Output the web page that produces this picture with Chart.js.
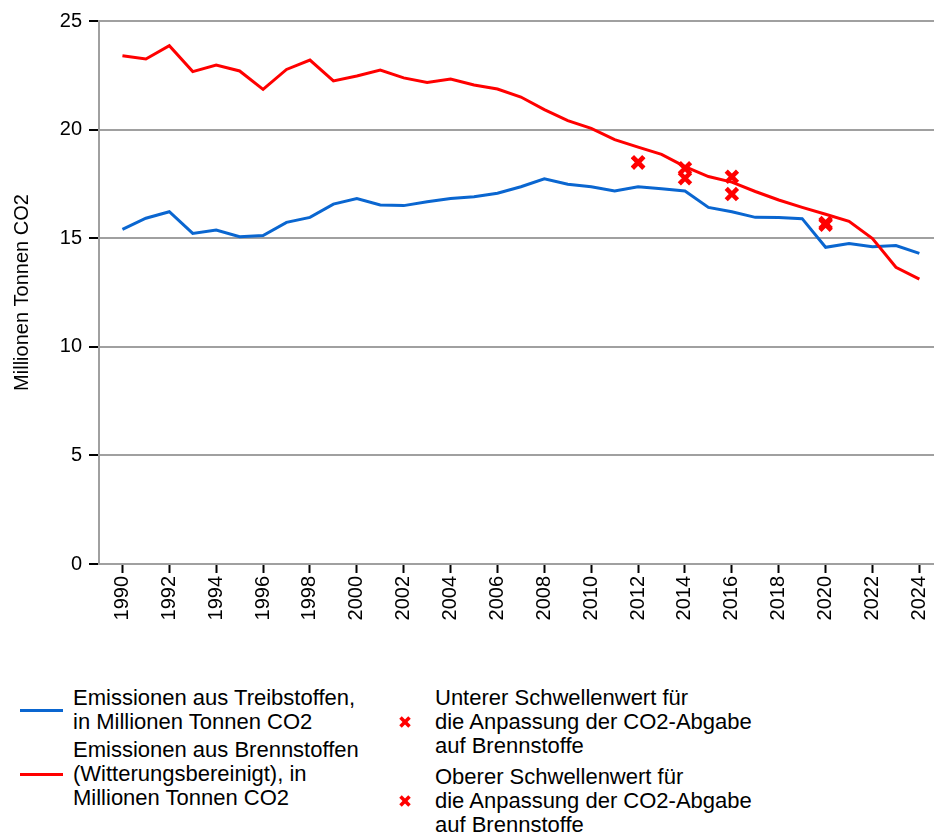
<!DOCTYPE html>
<html>
<head>
<meta charset="utf-8">
<script src="https://cdn.jsdelivr.net/npm/chart.js@4"></script>
<style>
  html, body { margin: 0; background: #fff; overflow: hidden; }
  body { font-family: "Liberation Sans", Arial, sans-serif; }
  #wrap { position: relative; width: 934px; height: 838px; overflow: hidden; }
  /* the plot runs past the right edge, as in the reference */
  #box { position: absolute; left: 0; top: 0; width: 955px; height: 650px; }
  .col { position: absolute; top: 686px; }
  .item { display: flex; align-items: center; font-size: 22px; line-height: 24px; color: #000; }
  .sample { width: 43px; height: 3px; margin-right: 10px; flex: none; }
  .mark { width: 20px; height: 14px; margin-right: 20px; flex: none; display: flex; justify-content: center; }
</style>
</head>
<body>
<div id="wrap">
  <div id="box"><canvas id="chart"></canvas></div>
  <div class="col" id="legendLeft" style="left:20px"></div>
  <div class="col" id="legendRight" style="left:395px"></div>
</div>
<script>
// Data
const years = [1990, 1991, 1992, 1993, 1994, 1995, 1996, 1997, 1998, 1999,
               2000, 2001, 2002, 2003, 2004, 2005, 2006, 2007, 2008, 2009,
               2010, 2011, 2012, 2013, 2014, 2015, 2016, 2017, 2018, 2019,
               2020, 2021, 2022, 2023, 2024];

const treibstoffe = [15.41, 15.92, 16.22, 15.22, 15.38, 15.07, 15.12, 15.73, 15.96, 16.57,
                     16.83, 16.53, 16.50, 16.68, 16.83, 16.91, 17.07, 17.37, 17.73, 17.48,
                     17.37, 17.17, 17.37, 17.28, 17.17, 16.42, 16.22, 15.96, 15.95, 15.90,
                     14.58, 14.76, 14.61, 14.66, 14.30];

const brennstoffe = [23.40, 23.25, 23.86, 22.67, 22.97, 22.70, 21.85, 22.77, 23.20, 22.24,
                     22.47, 22.74, 22.38, 22.17, 22.33, 22.05, 21.87, 21.50, 20.92, 20.41,
                     20.06, 19.54, 19.19, 18.86, 18.30, 17.84, 17.58, 17.15, 16.76, 16.42,
                     16.10, 15.78, 14.98, 13.66, 13.12];

const thresholdYears = [2012, 2014, 2016, 2020];
const lowerThreshold = [18.49, 17.76, 17.03, 15.62];
const upperThreshold = [18.49, 18.22, 17.83, 15.70];

const xTickYears = [1990, 1992, 1994, 1996, 1998, 2000, 2002, 2004, 2006, 2008,
                    2010, 2012, 2014, 2016, 2018, 2020, 2022, 2024];
const yTicks = [0, 5, 10, 15, 20, 25];

const yTitle = 'Millionen Tonnen CO2';
const labelTreib = ['Emissionen aus Treibstoffen,', 'in Millionen Tonnen CO2'];
const labelBrenn = ['Emissionen aus Brennstoffen', '(Witterungsbereinigt), in', 'Millionen Tonnen CO2'];
const labelLower = ['Unterer Schwellenwert für', 'die Anpassung der CO2-Abgabe', 'auf Brennstoffe'];
const labelUpper = ['Oberer Schwellenwert für', 'die Anpassung der CO2-Abgabe', 'auf Brennstoffe'];

const blue = '#0a66d0';
const red = '#ff0000';
const grey = '#a0a0a0';

function toPoints(xs, ys) {
  return xs.map(function(x, i) { return { x: x, y: ys[i] }; });
}

Chart.defaults.font.family = '"Liberation Sans", Arial, sans-serif';
Chart.defaults.font.size = 20;
Chart.defaults.color = '#000';

const ctx = document.getElementById('chart').getContext('2d');
new Chart(ctx, {
  type: 'line',
  data: {
    datasets: [
      {
        label: labelLower.join(' '),
        data: toPoints(thresholdYears, lowerThreshold),
        showLine: false,
        pointStyle: 'crossRot',
        pointRadius: 8,
        pointBorderWidth: 4.5,
        borderColor: red,
        backgroundColor: red,
        order: 0
      },
      {
        label: labelUpper.join(' '),
        data: toPoints(thresholdYears, upperThreshold),
        showLine: false,
        pointStyle: 'crossRot',
        pointRadius: 8,
        pointBorderWidth: 4.5,
        borderColor: red,
        backgroundColor: red,
        order: 0
      },
      {
        label: labelBrenn.join(' '),
        data: toPoints(years, brennstoffe),
        borderColor: red,
        borderWidth: 3,
        pointRadius: 0,
        tension: 0,
        order: 1
      },
      {
        label: labelTreib.join(' '),
        data: toPoints(years, treibstoffe),
        borderColor: blue,
        borderWidth: 3,
        pointRadius: 0,
        tension: 0,
        order: 2
      }
    ]
  },
  options: {
    responsive: true,
    maintainAspectRatio: false,
    animation: false,
    events: [],
    layout: {
      autoPadding: false,
      padding: { top: 21, left: 0, right: 0, bottom: 0 }
    },
    plugins: {
      legend: { display: false },
      tooltip: { enabled: false }
    },
    scales: {
      x: {
        type: 'linear',
        min: 1989,
        max: 2025.52,
        afterFit: function(scale) { scale.height = 86; },
        afterBuildTicks: function(scale) {
          scale.ticks = xTickYears.map(function(v) { return { value: v }; });
        },
        border: { color: grey, width: 2 },
        grid: {
          drawOnChartArea: false,
          tickLength: 9,
          tickColor: '#000',
          tickWidth: 2
        },
        ticks: {
          minRotation: 90,
          maxRotation: 90,
          autoSkip: false,
          padding: 3,
          callback: function(value) { return String(value); }
        }
      },
      y: {
        min: 0,
        max: 25,
        afterFit: function(scale) { scale.width = 99; },
        afterBuildTicks: function(scale) {
          scale.ticks = yTicks.map(function(v) { return { value: v }; });
        },
        border: { color: grey, width: 2 },
        grid: {
          color: grey,
          lineWidth: 2,
          tickLength: 10,
          tickColor: '#000',
          tickWidth: 2
        },
        ticks: {
          padding: 7,
          callback: function(value) { return String(value); }
        },
        title: {
          display: true,
          text: yTitle,
          font: { size: 20 },
          padding: { top: 10, bottom: 0 }
        }
      }
    }
  }
});

// HTML legend, two columns
function addItem(parentId, lines, kind, color, marginTop) {
  const item = document.createElement('div');
  item.className = 'item';
  item.style.marginTop = marginTop + 'px';
  const sym = document.createElement('div');
  if (kind === 'line') {
    sym.className = 'sample';
    sym.style.background = color;
  } else {
    sym.className = 'mark';
    sym.innerHTML = '<svg width="14" height="14" viewBox="0 0 14 14">' +
      '<line x1="2.5" y1="2.5" x2="11.5" y2="11.5" stroke="' + color + '" stroke-width="3.5"/>' +
      '<line x1="11.5" y1="2.5" x2="2.5" y2="11.5" stroke="' + color + '" stroke-width="3.5"/></svg>';
  }
  const text = document.createElement('div');
  text.innerHTML = lines.join('<br>');
  item.appendChild(sym);
  item.appendChild(text);
  document.getElementById(parentId).appendChild(item);
}

addItem('legendLeft', labelTreib, 'line', blue, 0);
addItem('legendLeft', labelBrenn, 'line', red, 4);
addItem('legendRight', labelLower, 'cross', red, 0);
addItem('legendRight', labelUpper, 'cross', red, 7);
</script>
</body>
</html>
